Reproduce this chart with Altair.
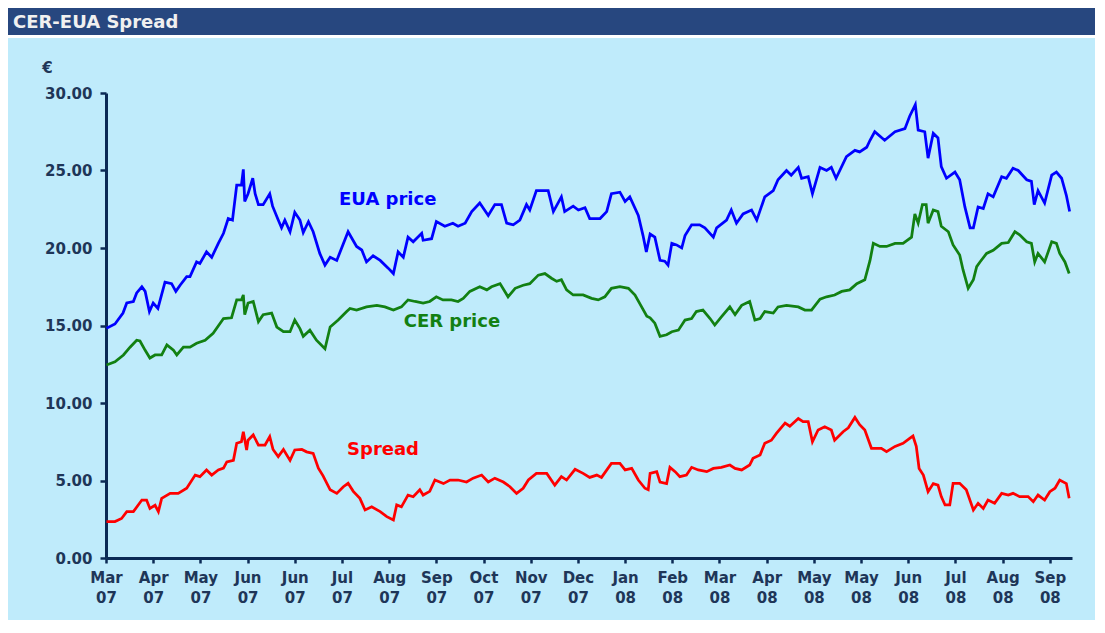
import json
import altair as alt
import pandas as pd

# time axis: months since the "Mar 07" tick
eua_t = [0.01,0.19,0.36,0.44,0.58,0.65,0.76,0.83,0.92,1.00,
         1.10,1.25,1.39,1.48,1.57,1.71,1.78,1.92,1.99,2.13,
         2.24,2.38,2.49,2.59,2.68,2.77,2.87,2.91,2.94,3.01,
         3.11,3.16,3.23,3.33,3.47,3.53,3.65,3.72,3.79,3.90,
         4.00,4.11,4.18,4.29,4.39,4.53,4.64,4.75,4.89,5.13,
         5.31,5.42,5.52,5.66,5.81,5.98,6.09,6.19,6.30,6.40,
         6.51,6.69,6.72,6.90,7.00,7.18,7.35,7.46,7.61,7.75,
         7.92,8.10,8.24,8.38,8.49,8.63,8.77,8.91,8.98,9.12,
         9.37,9.48,9.65,9.72,9.90,10.01,10.15,10.25,10.47,10.61,
         10.71,10.89,11.00,11.10,11.28,11.38,11.45,11.53,11.63,11.74,
         11.84,11.91,11.99,12.09,12.20,12.27,12.41,12.58,12.69,12.87,
         12.94,13.15,13.25,13.36,13.50,13.68,13.79,13.96,14.14,14.24,
         14.42,14.52,14.67,14.74,14.88,14.97,15.13,15.27,15.37,15.47,
         15.69,15.87,15.97,16.12,16.19,16.29,16.50,16.72,16.93,17.03,
         17.15,17.21,17.35,17.42,17.53,17.63,17.70,17.81,17.99,18.09,
         18.20,18.31,18.38,18.48,18.59,18.69,18.80,18.98,19.08,19.22,
         19.33,19.51,19.61,19.67,19.75,19.89,20.04,20.14,20.25,20.35,
         20.42]
eua_v = [14.82,15.1,15.8,16.45,16.55,17.1,17.5,17.2,15.9,16.45,
         16.1,17.8,17.7,17.2,17.6,18.15,18.15,19.1,19.0,19.75,
         19.4,20.3,20.95,21.9,21.8,24.06,24.06,25.07,23.0,23.5,
         24.5,23.5,22.8,22.8,23.5,22.7,21.8,21.3,21.8,21.05,
         22.3,21.8,21.0,21.7,21.05,19.65,18.9,19.4,19.2,21.05,
         20.1,19.87,19.1,19.5,19.2,18.7,18.35,19.75,19.4,20.7,
         20.4,20.95,20.5,20.6,21.7,21.4,21.6,21.4,21.6,22.35,
         22.9,22.1,22.8,22.8,21.6,21.5,21.8,22.8,22.45,23.7,
         23.7,22.35,23.3,22.35,22.7,22.45,22.6,21.9,21.9,22.35,
         23.5,23.6,23.0,23.3,22.1,20.8,19.75,20.9,20.7,19.2,
         19.15,18.9,20.3,20.2,20.0,20.8,21.5,21.5,21.3,20.7,
         21.3,21.8,22.45,21.6,22.2,22.45,21.8,23.3,23.7,24.4,
         25.0,24.7,25.2,24.5,24.6,23.5,25.2,25.0,25.2,24.5,
         25.9,26.3,26.2,26.5,26.95,27.5,26.95,27.5,27.7,28.5,
         29.25,27.6,27.5,25.8,27.4,27.1,25.25,24.5,24.9,24.4,
         22.65,21.3,21.3,22.65,22.55,23.5,23.3,24.6,24.5,25.15,
         25.0,24.4,24.3,22.8,23.7,22.9,24.7,24.9,24.5,23.4,
         22.35]

cer_t = [0.01,0.19,0.37,0.51,0.65,0.72,0.83,0.93,1.04,1.18,
         1.29,1.43,1.50,1.64,1.78,1.92,2.10,2.27,2.49,2.66,
         2.77,2.87,2.91,2.94,3.01,3.12,3.23,3.33,3.51,3.62,
         3.76,3.90,4.00,4.11,4.18,4.32,4.46,4.64,4.75,4.92,
         5.10,5.17,5.31,5.52,5.74,5.91,6.09,6.26,6.40,6.55,
         6.72,6.86,7.00,7.14,7.32,7.46,7.57,7.71,7.92,8.07,
         8.17,8.35,8.52,8.67,8.84,8.98,9.16,9.30,9.44,9.55,
         9.65,9.76,9.90,10.11,10.29,10.43,10.57,10.71,10.89,11.07,
         11.21,11.35,11.46,11.53,11.63,11.74,11.88,11.99,12.13,12.27,
         12.41,12.51,12.65,12.80,12.90,13.04,13.22,13.33,13.47,13.64,
         13.75,13.86,13.96,14.14,14.24,14.42,14.67,14.81,14.95,15.13,
         15.27,15.44,15.59,15.76,15.91,16.08,16.19,16.26,16.40,16.54,
         16.72,16.89,17.07,17.14,17.21,17.30,17.38,17.42,17.53,17.63,
         17.70,17.85,17.95,18.09,18.16,18.27,18.38,18.45,18.52,18.66,
         18.80,18.98,19.12,19.26,19.36,19.51,19.61,19.68,19.75,19.89,
         20.04,20.14,20.21,20.32,20.41]
cer_v = [12.45,12.66,13.1,13.6,14.05,14.0,13.4,12.9,13.1,13.1,
         13.75,13.4,13.1,13.6,13.6,13.85,14.05,14.5,15.45,15.5,
         16.65,16.65,16.97,15.7,16.45,16.55,15.25,15.7,15.8,14.9,
         14.6,14.6,15.35,14.8,14.3,14.7,14.05,13.5,14.9,15.35,
         15.9,16.1,16.0,16.2,16.3,16.2,16.0,16.2,16.65,16.55,
         16.45,16.55,16.85,16.65,16.65,16.55,16.75,17.2,17.5,17.3,
         17.5,17.7,16.85,17.4,17.6,17.7,18.25,18.35,18.05,17.85,
         17.95,17.3,16.97,16.97,16.75,16.65,16.85,17.4,17.5,17.4,
         16.97,16.2,15.6,15.5,15.15,14.3,14.4,14.6,14.7,15.35,
         15.45,15.9,16.0,15.45,15.03,15.55,16.2,15.7,16.3,16.55,
         15.35,15.45,15.9,15.8,16.2,16.3,16.2,16.0,16.0,16.7,
         16.85,16.97,17.2,17.3,17.7,17.95,19.2,20.3,20.1,20.1,
         20.3,20.3,20.7,22.2,21.6,22.8,22.8,21.6,22.45,22.35,
         21.4,21.05,20.2,19.55,18.6,17.4,17.95,18.8,19.1,19.65,
         19.85,20.3,20.35,21.05,20.85,20.4,20.3,19.1,19.65,19.1,
         20.4,20.3,19.65,19.1,18.35]

spread_t = [0.01,0.19,0.33,0.44,0.58,0.76,0.86,0.93,1.04,1.11,
            1.18,1.36,1.53,1.71,1.89,1.99,2.13,2.24,2.38,2.49,
            2.56,2.70,2.77,2.87,2.91,2.98,3.01,3.12,3.23,3.37,
            3.47,3.54,3.65,3.76,3.90,4.00,4.15,4.25,4.39,4.50,
            4.60,4.75,4.89,5.03,5.13,5.24,5.38,5.49,5.63,5.81,
            5.95,6.09,6.16,6.26,6.40,6.51,6.65,6.72,6.86,6.97,
            7.15,7.29,7.46,7.64,7.78,7.96,8.10,8.24,8.42,8.56,
            8.70,8.84,8.95,9.12,9.34,9.51,9.65,9.76,9.94,10.11,
            10.25,10.40,10.50,10.71,10.89,11.00,11.14,11.28,11.42,11.49,
            11.53,11.67,11.74,11.88,11.95,12.06,12.16,12.30,12.41,12.55,
            12.73,12.87,13.04,13.22,13.33,13.47,13.64,13.71,13.86,13.96,
            14.10,14.21,14.39,14.49,14.67,14.77,14.88,14.97,15.09,15.23,
            15.37,15.44,15.62,15.73,15.87,15.97,16.08,16.22,16.43,16.54,
            16.72,16.89,17.03,17.10,17.17,17.23,17.32,17.42,17.53,17.63,
            17.70,17.78,17.88,17.95,18.09,18.23,18.38,18.48,18.59,18.69,
            18.83,18.98,19.12,19.22,19.36,19.54,19.65,19.75,19.89,20.00,
            20.11,20.21,20.35,20.41]
spread_v = [2.35,2.35,2.55,2.99,2.99,3.74,3.74,3.2,3.4,2.99,
            3.85,4.17,4.17,4.5,5.35,5.25,5.68,5.35,5.68,5.8,
            6.2,6.3,7.4,7.5,8.15,6.97,7.6,7.94,7.29,7.29,
            7.83,7.0,6.54,7.0,6.3,6.97,7.0,6.85,6.75,5.8,
            5.3,4.4,4.17,4.6,4.82,4.3,3.85,3.1,3.3,2.99,
            2.67,2.45,3.42,3.3,4.06,3.95,4.4,4.06,4.3,5.03,
            4.8,5.03,5.03,4.9,5.15,5.35,4.9,5.15,4.9,4.6,
            4.17,4.5,5.03,5.46,5.46,4.7,5.25,5.03,5.72,5.46,
            5.2,5.35,5.2,6.1,6.1,5.68,5.78,5.03,4.5,4.4,
            5.46,5.57,4.9,4.8,5.85,5.57,5.25,5.35,5.85,5.68,
            5.57,5.78,5.85,6.0,5.78,5.68,6.0,6.43,6.65,7.4,
            7.6,8.05,8.7,8.5,9.0,8.8,8.8,7.5,8.26,8.47,
            8.26,7.6,8.15,8.4,9.07,8.6,8.26,7.08,7.08,6.86,
            7.2,7.4,7.72,7.87,7.2,5.78,5.35,4.28,4.8,4.7,
            3.96,3.42,3.42,4.82,4.82,4.4,3.1,3.53,3.2,3.74,
            3.53,4.17,4.06,4.17,3.96,3.96,3.63,4.06,3.74,4.28,
            4.5,5.03,4.8,3.85]

tick_labels = ["Mar|07", "Apr|07", "May|07", "Jun|07", "Jun|07", "Jul|07", "Aug|07",
               "Sep|07", "Oct|07", "Nov|07", "Dec|07", "Jan|08", "Feb|08", "Mar|08",
               "Apr|08", "May|08", "May|08", "Jun|08", "Jul|08", "Aug|08", "Sep|08"]
y_ticks = [0, 5, 10, 15, 20, 25, 30]

series_names = ["EUA", "CER", "Spread"]
series_colors = ["#0000ff", "#128012", "#ff0000"]

label_text = ["EUA price", "CER price", "Spread"]
label_t = [5.97, 7.33, 5.87]
label_v = [23.1, 15.25, 6.95]

rows = []
for name, ts, vs in [("EUA", eua_t, eua_v), ("CER", cer_t, cer_v), ("Spread", spread_t, spread_v)]:
    for t, v in zip(ts, vs):
        rows.append({"t": t, "v": v, "series": name})
df = pd.DataFrame(rows)
lab = pd.DataFrame({"t": label_t, "v": label_v, "label": label_text, "series": series_names})

NAVY = "#0b2a55"
LABEL = "#1e3658"
FONT = "DejaVu Sans"

xscale = alt.Scale(domain=[0, 20.47], nice=False, zero=False)
yscale = alt.Scale(domain=[0, 30], nice=False)
cscale = alt.Scale(domain=series_names, range=series_colors)

label_expr = "split(" + json.dumps(tick_labels).replace('"', "'") + "[round(datum.value)], '|')"

xaxis = alt.Axis(values=list(range(21)), labelExpr=label_expr, title=None, grid=False,
                 domainColor=NAVY, domainWidth=3, tickColor=NAVY, tickSize=5, tickWidth=2.5,
                 labelFont=FONT, labelFontWeight="bold", labelFontSize=15, labelColor=LABEL,
                 labelPadding=7, labelLineHeight=20, labelBaseline="top",
                 labelOverlap=False, labelFlush=False)
yaxis = alt.Axis(values=y_ticks, format=".2f", grid=False, title="€", titleAngle=0,
                 titleX=-59, titleY=-26, titleAlign="center", titleBaseline="middle",
                 titleFont=FONT, titleFontSize=15, titleFontWeight="bold", titleColor=LABEL,
                 domainColor=NAVY, domainWidth=3, tickColor=NAVY, tickSize=6, tickWidth=2.5,
                 labelFont=FONT, labelFontWeight="bold", labelFontSize=15, labelColor=LABEL,
                 labelPadding=8)

lines = alt.Chart(df).mark_line(strokeWidth=2.75, clip=True).encode(
    x=alt.X("t:Q", scale=xscale, axis=xaxis),
    y=alt.Y("v:Q", scale=yscale, axis=yaxis),
    color=alt.Color("series:N", scale=cscale, legend=None),
    detail="series:N",
)

texts = alt.Chart(lab).mark_text(font=FONT, fontSize=18, fontWeight="bold",
                                 align="center", baseline="middle").encode(
    x=alt.X("t:Q", scale=xscale),
    y=alt.Y("v:Q", scale=yscale),
    text="label:N",
    color=alt.Color("series:N", scale=cscale, legend=None),
)

one = alt.Data(values=[{"k": 1}])
bar = alt.Chart(one).mark_rect(color="#27477f").encode(
    x=alt.value(-98), x2=alt.value(991), y=alt.value(-85), y2=alt.value(-58))
gap = alt.Chart(one).mark_rect(color="#ffffff").encode(
    x=alt.value(-98), x2=alt.value(991), y=alt.value(-58), y2=alt.value(-55))
title = alt.Chart(one).mark_text(text="CER-EUA Spread", font=FONT, fontSize=18, fontWeight="bold",
                                 color="#f0f0f0", align="left", baseline="alphabetic").encode(
    x=alt.value(-93), y=alt.value(-65))

chart = alt.layer(bar, gap, title, lines, texts).properties(
    width=966, height=465,
    autosize=alt.AutoSizeParams(type="none"),
    padding={"left": 98, "top": 85, "right": 23, "bottom": 62},
).configure(background="#bfebfb").configure_view(stroke=None)

chart.save("out.html", embed_options={"renderer": "svg", "actions": False})
